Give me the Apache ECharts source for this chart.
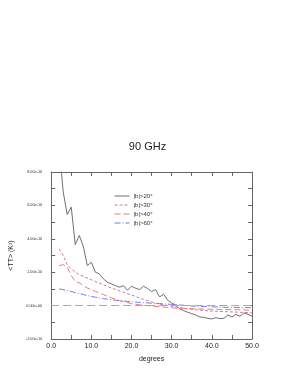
<!DOCTYPE html>
<html><head><meta charset="utf-8">
<script src="https://cdn.jsdelivr.net/npm/echarts@6/dist/echarts.min.js"></script>
<style>html,body{margin:0;padding:0;background:#fff}#c{width:295px;height:382px}</style>
</head><body><div id="c"></div>
<script>
// angular separation (degrees)
const degrees = [2,3,4,5,6,7,8,9,10,11,12,13,14,15,16,17,18,19,20,21,22,23,24,25,26,27,28,29,30,31,32,33,34,35,36,37,38,39,40,41,42,43,44,45,46,47,48,49,50];
// <TT> in units of 1e-10 K^2
const tt_b20 = [9.5,6.8,5.45,5.9,3.65,4.2,3.55,2.4,2.6,2.0,1.9,1.6,1.4,1.3,1.2,1.1,1.2,0.92,1.16,1.04,0.96,1.16,1.02,0.84,0.96,0.52,0.68,0.32,0.16,0.04,-0.2,-0.3,-0.4,-0.48,-0.56,-0.68,-0.7,-0.76,-0.8,-0.72,-0.78,-0.76,-0.56,-0.68,-0.52,-0.64,-0.44,-0.52,-0.64];
const tt_b30 = [3.4,3.0,2.45,2.2,2.0,1.85,1.75,1.65,1.55,1.45,1.35,1.25,1.15,1.05,0.97,0.88,0.8,0.72,0.64,0.55,0.46,0.37,0.29,0.22,0.15,0.09,0.04,0.0,-0.04,-0.08,-0.12,-0.16,-0.2,-0.22,-0.25,-0.27,-0.29,-0.31,-0.33,-0.34,-0.35,-0.36,-0.37,-0.38,-0.39,-0.4,-0.41,-0.42,-0.44];
const tt_b40 = [2.4,2.45,2.3,1.8,1.45,1.36,1.2,1.05,0.95,0.85,0.76,0.66,0.56,0.46,0.38,0.3,0.24,0.18,0.12,0.08,0.05,0.02,0.0,-0.03,-0.05,-0.07,-0.09,-0.11,-0.13,-0.15,-0.16,-0.17,-0.18,-0.19,-0.2,-0.2,-0.21,-0.21,-0.22,-0.22,-0.23,-0.23,-0.24,-0.24,-0.25,-0.25,-0.26,-0.27,-0.28];
const tt_b60 = [1.0,0.95,0.9,0.84,0.78,0.72,0.66,0.6,0.55,0.5,0.46,0.42,0.38,0.35,0.32,0.29,0.27,0.25,0.23,0.21,0.19,0.17,0.16,0.14,0.13,0.12,0.1,0.09,0.07,0.06,0.04,0.02,0.0,-0.02,-0.03,-0.04,-0.05,-0.06,-0.07,-0.08,-0.09,-0.1,-0.1,-0.11,-0.11,-0.12,-0.12,-0.12,-0.12];
const seriesNames = ['|b|>20°','|b|>30°','|b|>40°','|b|>60°'];
const xTicks = {min:0, max:50, step:5, labelStep:10};
const yTicks = {min:-2, max:8, step:1, labelStep:2};

function pair(ys){ return degrees.map((d,i)=>[d, ys[i]]); }
function fmtSci(v){
  const val = v*1e-10;
  if (Math.abs(v) < 1e-9) return '0.00e+00';
  let s = val.toExponential(2);
  const m = s.match(/^(-?[\d.]+)e([+-])(\d+)$/);
  return m[1] + 'e' + m[2] + (m[3].length<2 ? '0'+m[3] : m[3]);
}
const chart = echarts.init(document.getElementById('c'), null, {renderer:'canvas'});
const FONT = 'Liberation Sans, Arial, sans-serif';
const axisLine = {show:true, onZero:false, lineStyle:{color:'#666', width:1}};
const tick = {show:true, inside:true, length:4, lineStyle:{color:'#666', width:1}};
chart.setOption({
  animation:false,
  backgroundColor:'#fff',
  title:{text:'90 GHz', left:'center', top:141, padding:0,
    textStyle:{fontFamily:FONT, fontSize:11, fontWeight:'normal', color:'#222'}},
  legend:{
    orient:'vertical', left:109, top:188, itemWidth:15, itemHeight:5, itemGap:3,
    data:seriesNames,
    itemStyle:{opacity:0},
    lineStyle:{width:1},
    textStyle:{fontFamily:FONT, fontSize:6, color:'#333', padding:[0,0,0,-1]}
  },
  grid:{left:50, right:43, top:172, bottom:43, containLabel:false},
  xAxis:[{
    type:'value', min:xTicks.min, max:xTicks.max, interval:xTicks.step,
    name:'degrees', nameLocation:'middle', nameGap:17,
    nameTextStyle:{fontFamily:FONT, fontSize:7, color:'#222'},
    axisLine:axisLine, axisTick:tick, splitLine:{show:false},
    axisLabel:{fontFamily:FONT, fontSize:7, color:'#222', margin:4,
      formatter:v=> (Math.round(v)%xTicks.labelStep===0 ? v.toFixed(1) : '')}
  },{
    type:'value', position:'top', min:xTicks.min, max:xTicks.max, interval:xTicks.step,
    axisLine:axisLine, axisTick:tick, splitLine:{show:false}, axisLabel:{show:false}
  }],
  yAxis:[{
    type:'value', min:yTicks.min, max:yTicks.max, interval:yTicks.step,
    name:'<TT> (K²)', nameLocation:'middle', nameGap:35, nameRotate:90,
    nameTextStyle:{fontFamily:FONT, fontSize:7, color:'#222'},
    axisLine:axisLine, axisTick:tick, splitLine:{show:false},
    axisLabel:{fontFamily:FONT, fontSize:3.8, color:'#333', margin:9,
      formatter:v=> (Math.round(v)%yTicks.labelStep===0 ? fmtSci(v) : '')}
  },{
    type:'value', position:'right', min:yTicks.min, max:yTicks.max, interval:yTicks.step,
    axisLine:axisLine, axisTick:tick, splitLine:{show:false}, axisLabel:{show:false}
  }],
  series:[
    {name:seriesNames[0], type:'line', data:pair(tt_b20), symbol:'none', clip:true,
     lineStyle:{color:'#707070', width:1, type:'solid'}, itemStyle:{color:'#707070'},
     markLine:{silent:true, symbol:'none', label:{show:false},
       lineStyle:{color:'#aaaaaa', width:1, type:[8,4]}, data:[{yAxis:0}]}},
    {name:seriesNames[1], type:'line', data:pair(tt_b30), symbol:'none', clip:true,
     lineStyle:{color:'#c87d9e', width:1, type:[3,2]}, itemStyle:{color:'#c87d9e'}},
    {name:seriesNames[2], type:'line', data:pair(tt_b40), symbol:'none', clip:true,
     lineStyle:{color:'#f07878', width:1, type:[6,3]}, itemStyle:{color:'#f07878'}},
    {name:seriesNames[3], type:'line', data:pair(tt_b60), symbol:'none', clip:true,
     lineStyle:{color:'#7878f0', width:1, type:[6,2,1,2]}, itemStyle:{color:'#7878f0'}}
  ]
});
</script></body></html>
